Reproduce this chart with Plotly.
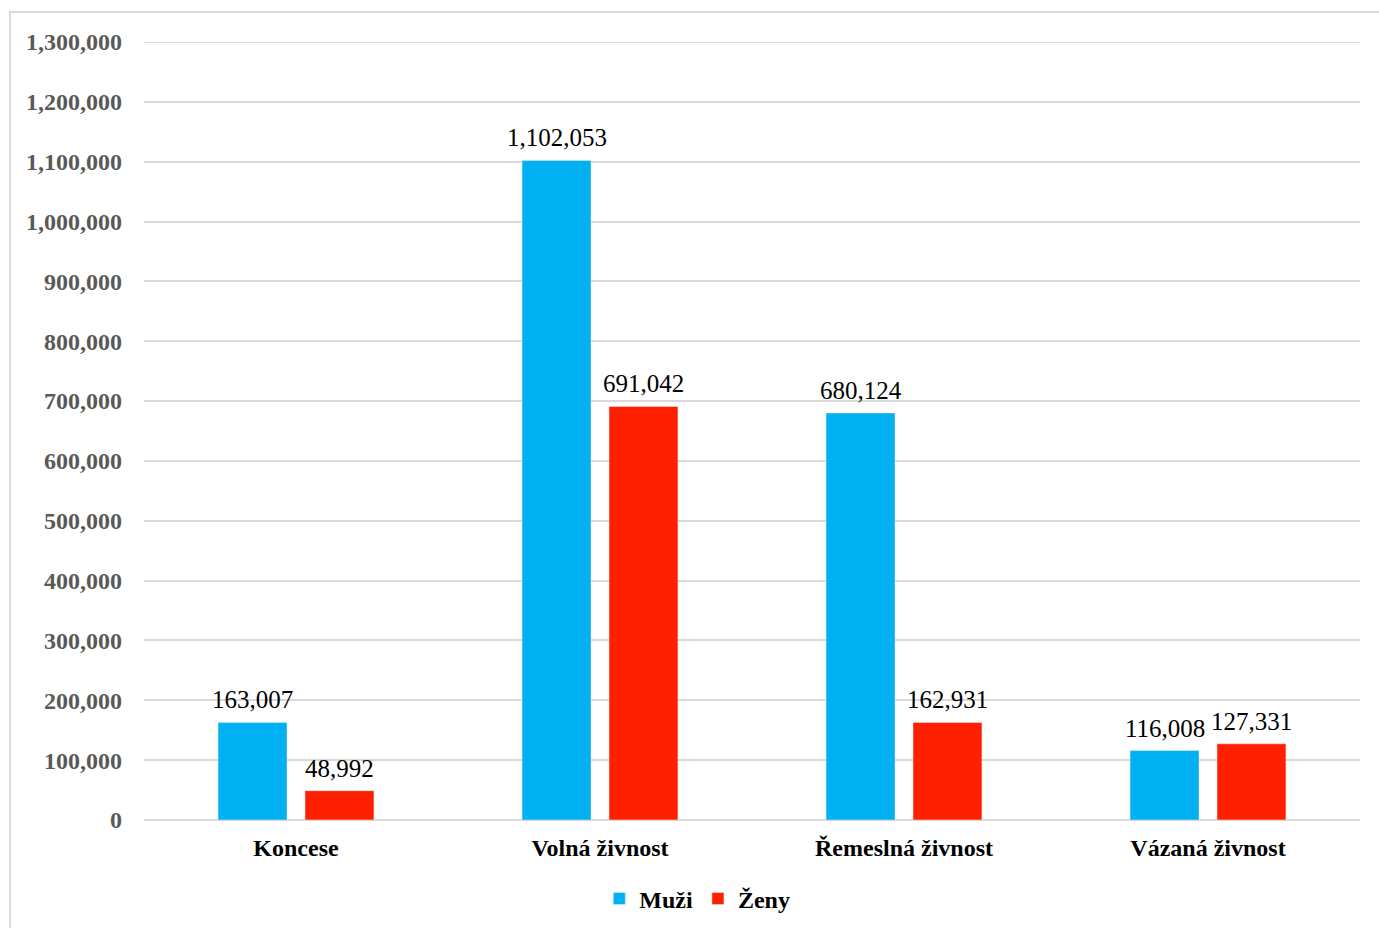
import plotly.graph_objects as go

categories = ["Koncese", "Volná živnost", "Řemeslná živnost", "Vázaná živnost"]
muzi = [163007, 1102053, 680124, 116008]
zeny = [48992, 691042, 162931, 127331]
tick_vals = list(range(0, 1300001, 100000))
tick_text = [f"{v:,}" for v in tick_vals]

label_font = dict(family="Liberation Serif", size=25, color="#000000")

fig = go.Figure()
fig.add_trace(go.Bar(name="<b>Muži</b>", x=categories, y=muzi, marker_color="#00B0F0"))
fig.add_trace(go.Bar(name="<b>Ženy</b>", x=categories, y=zeny, marker_color="#FF2000"))

# data labels above bars
for series, shift in ((muzi, -43.5), (zeny, 43.5)):
    for cat, val in zip(categories, series):
        fig.add_annotation(x=cat, y=val, text=f"{val:,}", showarrow=False,
                           xshift=shift, yshift=7, yanchor="bottom",
                           font=label_font)

fig.update_layout(
    width=1379, height=928,
    margin=dict(l=144, r=19, t=42, b=108, autoexpand=False),
    paper_bgcolor="white", plot_bgcolor="white",
    barmode="group", bargap=0.428, bargroupgap=0.207,
    font=dict(family="Liberation Serif"),
    legend=dict(orientation="h", x=0.455, xanchor="center", y=-0.1015, yanchor="middle",
                font=dict(family="Liberation Serif", size=24, color="#000000"),
                itemwidth=30, traceorder="normal"),
    showlegend=True,
)
fig.update_yaxes(range=[0, 1300000], tickvals=tick_vals, ticktext=[f"<b>{t}</b>" for t in tick_text],
                 tickfont=dict(family="Liberation Serif", size=24, color="#595959"),
                 showgrid=True, gridcolor="#D9D9D9", gridwidth=2,
                 zeroline=True, zerolinecolor="#D9D9D9", zerolinewidth=2,
                 showline=False, ticks="", ticklabelstandoff=21, automargin=False)
fig.update_xaxes(tickvals=categories, ticktext=[f"<b>{c}</b>" for c in categories],
                 tickfont=dict(family="Liberation Serif", size=24, color="#000000"),
                 showline=False, ticks="", ticklabelstandoff=11, automargin=False)

# top gridline at 1,300,000
fig.add_shape(type="line", xref="paper", yref="y", x0=0, x1=1, y0=1300000, y1=1300000,
              line=dict(color="#D9D9D9", width=2), layer="below")
# chart border
fig.add_shape(type="rect", xref="paper", yref="paper",
              x0=-0.1102, x1=1.03, y0=-0.15, y1=1.0386,
              line=dict(color="#D9D9D9", width=2), fillcolor="rgba(0,0,0,0)", layer="below")

fig.write_html("out.html")
